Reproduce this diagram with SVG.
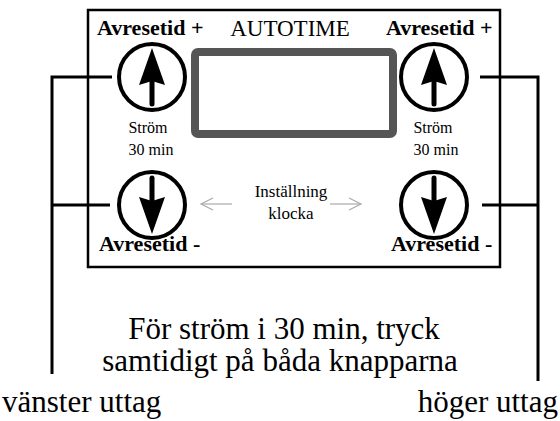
<svg xmlns="http://www.w3.org/2000/svg" width="560" height="421" viewBox="0 0 560 421">
<defs>
<style>
.b{font-weight:bold;font-size:22px}
.s{font-size:16px}
.m{font-size:17px}
.L{font-size:31px}
.wire{stroke:#000;stroke-width:3;fill:none}
.ring{fill:#fff;stroke:#000;stroke-width:4}
.shaft{stroke:#000;stroke-width:5;stroke-linecap:round}
.gray{stroke:#aaa;stroke-width:1.2;fill:none}
</style>
</defs>
<rect width="560" height="421" fill="#fff"/>
<g id="panel">
<rect x="88" y="10" width="412" height="257" fill="none" stroke="#000" stroke-width="2.5"/>
</g>
<g id="connectors">
<polyline class="wire" points="112,77 52,77 52,374"/>
<line class="wire" x1="52" y1="205" x2="110" y2="205"/>
<polyline class="wire" points="480,77 538,77 538,381"/>
<line class="wire" x1="538" y1="205" x2="482" y2="205"/>
<g id="arrow-left">
<line class="gray" x1="232" y1="204" x2="201" y2="204"/>
<polyline class="gray" points="213,198 201,204 213,210"/>
</g>
<g id="arrow-right">
<line class="gray" x1="330" y1="204" x2="361" y2="204"/>
<polyline class="gray" points="349,198 361,204 349,210"/>
</g>
</g>
<g id="display">
<rect x="195" y="52" width="198" height="82" rx="3" fill="#fff" stroke="#555" stroke-width="8"/>
</g>
<g id="title"><text x="290" y="36" font-size="23" text-anchor="middle" font-family="Liberation Serif, serif">AUTOTIME</text></g>
<g id="btn-left-up">
<circle cx="152" cy="77" r="33" class="ring"/>
<line class="shaft" x1="152" y1="81" x2="152" y2="104"/>
<path d="M152,48 L165,85 L152,81 L139,85 Z" fill="#000"/>
<text class="b" x="97" y="35" font-family="Liberation Serif, serif">Avresetid +</text>
<text class="s" x="148" y="133" text-anchor="middle" font-family="Liberation Serif, serif">Str&#246;m</text>
<text class="s" x="151" y="155" text-anchor="middle" font-family="Liberation Serif, serif">30 min</text>
</g>
<g id="btn-right-up">
<circle cx="434" cy="77" r="33" class="ring"/>
<line class="shaft" x1="434" y1="81" x2="434" y2="104"/>
<path d="M434,48 L447,85 L434,81 L421,85 Z" fill="#000"/>
<text class="b" x="386" y="35" font-family="Liberation Serif, serif">Avresetid +</text>
<text class="s" x="433" y="133" text-anchor="middle" font-family="Liberation Serif, serif">Str&#246;m</text>
<text class="s" x="436" y="155" text-anchor="middle" font-family="Liberation Serif, serif">30 min</text>
</g>
<g id="btn-left-down">
<circle cx="152" cy="205" r="33" class="ring"/>
<line class="shaft" x1="152" y1="178" x2="152" y2="201"/>
<path d="M152,234 L165,197 L152,201 L139,197 Z" fill="#000"/>
<text class="b" x="99" y="251" font-family="Liberation Serif, serif">Avresetid -</text>
</g>
<g id="btn-right-down">
<circle cx="434" cy="205" r="33" class="ring"/>
<line class="shaft" x1="434" y1="178" x2="434" y2="201"/>
<path d="M434,234 L447,197 L434,201 L421,197 Z" fill="#000"/>
<text class="b" x="391" y="251" font-family="Liberation Serif, serif">Avresetid -</text>
</g>
<g id="setting">
<text class="m" x="291" y="197" text-anchor="middle" font-family="Liberation Serif, serif">Inst&#228;llning</text>
<text class="m" x="291" y="219" text-anchor="middle" font-family="Liberation Serif, serif">klocka</text>
</g>
<g id="note">
<text class="L" x="284" y="339" text-anchor="middle" font-family="Liberation Serif, serif">F&#246;r str&#246;m i 30 min, tryck</text>
<text class="L" x="280" y="371" text-anchor="middle" font-family="Liberation Serif, serif">samtidigt p&#229; b&#229;da knapparna</text>
</g>
<g id="outlet-left"><text class="L" x="2" y="412" font-family="Liberation Serif, serif">v&#228;nster uttag</text></g>
<g id="outlet-right"><text class="L" x="558" y="412" text-anchor="end" font-family="Liberation Serif, serif">h&#246;ger uttag</text></g>
</svg>
